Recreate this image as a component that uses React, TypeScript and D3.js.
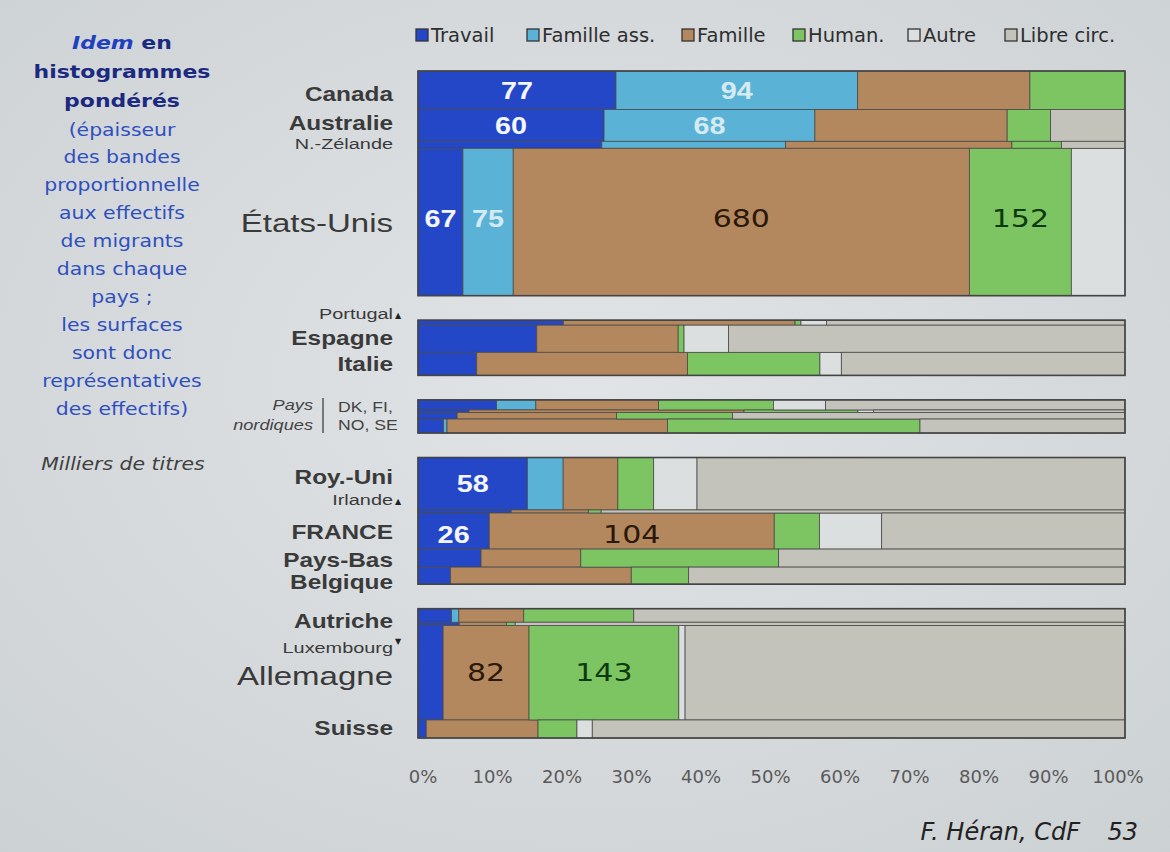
import React from 'react';
import * as d3 from 'd3';

// Milliers de titres, par motif et par pays
const countries = [
  'Canada', 'Australie', 'N.-Zélande', 'États-Unis',
  'Portugal', 'Espagne', 'Italie',
  'Danemark', 'Finlande', 'Norvège', 'Suède',
  'Roy.-Uni', 'Irlande', 'FRANCE', 'Pays-Bas', 'Belgique',
  'Autriche', 'Luxembourg', 'Allemagne', 'Suisse',
];
const groups = [0, 0, 0, 0, 1, 1, 1, 2, 2, 2, 2, 3, 3, 3, 3, 3, 4, 4, 4, 4];
const seriesNames = ['Travail', 'Famille ass.', 'Famille', 'Human.', 'Autre', 'Libre circ.'];

const travail = [77, 60, 13, 67, 7.4, 32.6, 13.7, 8, 1.3, 2.6, 3.6, 58, 2.9, 26, 11.5, 5.6, 4.6, 1.4, 24, 1.5];
const familleAss = [94, 68, 13, 75, 0, 0, 0, 4, 0, 0, 0.5, 19, 0, 0, 0, 0, 1, 0, 0, 0];
const famille = [67, 62, 16, 680, 11.8, 38.8, 49.2, 12.5, 7, 10.6, 31.2, 29, 2.4, 104, 18.2, 31.2, 8.9, 1.6, 82, 20.4];
const human = [37, 14, 3.5, 152, 0.3, 1.6, 30.9, 11.7, 2.9, 7.7, 35.7, 19, 0.4, 16.5, 36.1, 9.9, 15.1, 0.3, 143, 7.1];
const autre = [0, 0, 0, 80, 1.3, 12.2, 5, 5.3, 0.4, 0, 0, 23, 0, 22.7, 0, 0, 0, 0, 6, 2.8];
const libreCirc = [0, 24, 4.5, 0, 15.2, 108.8, 66.2, 30.5, 6.4, 26.1, 29, 227, 16.3, 88.8, 63.2, 75.3, 67.4, 20.7, 420, 97.2];

const xTicks = [0, 0.1, 0.2, 0.3, 0.4, 0.5, 0.6, 0.7, 0.8, 0.9, 1];

// [pays, série] dont la valeur est écrite dans la barre
const valueLabels: [number, number][] = [
  [0, 0], [0, 1], [1, 0], [1, 1], [3, 0], [3, 1], [3, 2], [3, 3],
  [11, 0], [13, 0], [13, 2], [18, 2], [18, 3],
];

const keys = ['travail', 'familleAss', 'famille', 'human', 'autre', 'libreCirc'];
const colors = ['#2347c6', '#5ab3d6', '#b4885e', '#7dc462', '#dcdfdf', '#c3c2bb'];

// label styling (class, vertical shift, marker)
const labelClass = ['n', 'n', 's', 'b', 's', 'n', 'n', '', '', '', '', 'n', 's', 'n', 'n', 'n', 'n', 's', 'b', 'n'];
const labelShift = [4, -3, -1, 1, -9, -1, 0, 0, 0, 0, 0, -7, -11.5, 1, 2, 6, 5, 24, 3, -1];
const labelMark = ['', '', '', '', '▲', '', '', '', '', '', '', '', '▲', '', '', '', '', '▼', '', ''];
const classStyle: Record<string, { size: number; weight: string; sx: number }> = {
  n: { size: 20, weight: 'bold', sx: 1.22 },
  b: { size: 26, weight: 'normal', sx: 1.27 },
  s: { size: 14, weight: 'normal', sx: 1.42 },
};

const leftLines = [
  { t: 'histogrammes', y: 72, bold: true },
  { t: 'pondérés', y: 101, bold: true },
  { t: '(épaisseur', y: 130 },
  { t: 'des bandes', y: 157 },
  { t: 'proportionnelle', y: 185 },
  { t: 'aux effectifs', y: 213 },
  { t: 'de migrants', y: 241 },
  { t: 'dans chaque', y: 269 },
  { t: 'pays ;', y: 297 },
  { t: 'les surfaces', y: 325 },
  { t: 'sont donc', y: 353 },
  { t: 'représentatives', y: 381 },
  { t: 'des effectifs)', y: 409 },
];

const legendX = [416, 527, 682, 793, 908, 1005];

const W = 1170;
const H = 852;
const SANS = '"Liberation Sans", Arial, sans-serif';
const VERD = '"DejaVu Sans", Verdana, sans-serif';

const T: React.FC<any> = ({ x, y, sx = 1.22, children, ...rest }) => (
  <text transform={`translate(${x},${y}) scale(${sx},1)`} {...rest}>{children}</text>
);

export default function App() {
  const table = countries.map((c, i) => ({
    country: c,
    travail: travail[i],
    familleAss: familleAss[i],
    famille: famille[i],
    human: human[i],
    autre: autre[i],
    libreCirc: libreCirc[i],
  }));
  const stacked = d3.stack<any>().keys(keys).offset(d3.stackOffsetExpand)(table);
  const totals = table.map(d => d3.sum(keys, k => (d as any)[k]));

  const x = d3.scaleLinear().domain([0, 1]).range([418, 1125]);
  const xLab = x.copy().range([423, 1118]);

  const top = 71;
  const bottom = 738;
  const gap = 24.5;
  const nGroups = 5;
  const h = d3.scaleLinear()
    .domain([0, d3.sum(totals)])
    .range([0, bottom - top - gap * (nGroups - 1)]);

  let cum = 0;
  const rows = totals.map((t, i) => {
    const y0 = top + h(cum) + groups[i] * gap;
    cum += t;
    return { y0, y1: y0 + h(t), yc: y0 + h(t) / 2 };
  });

  const frames = d3.range(nGroups).map(g => {
    const r = rows.filter((_, i) => groups[i] === g);
    return { y0: d3.min(r, d => d.y0)!, y1: d3.max(r, d => d.y1)! };
  });

  const nordic = frames[2];

  return (
    <svg width={W} height={H} style={{ position: 'absolute', left: 0, top: 0 }}>
      <defs>
        <radialGradient id="bg" cx="50%" cy="45%" r="75%">
          <stop offset="0%" stopColor="#e1e4e6" />
          <stop offset="100%" stopColor="#ccd1d4" />
        </radialGradient>
      </defs>
      <rect width={W} height={H} fill="url(#bg)" />

      {/* texte de gauche */}
      <T x={122} y={49} sx={1.2} textAnchor="middle" fontFamily={VERD} fontSize={18.3} fontWeight="bold">
        <tspan fill="#2040c0" fontStyle="italic">Idem</tspan>
        <tspan fill="#1b2a80"> en</tspan>
      </T>
      {leftLines.map(l => (
        <T key={l.t} x={122} y={l.y + 6} sx={1.2} textAnchor="middle" fontFamily={VERD}
          fontSize={l.bold ? 18.3 : 17} fontWeight={l.bold ? 'bold' : 'normal'}
          fill={l.bold ? '#1b2a80' : '#2f4fbf'}>
          {l.t}
        </T>
      ))}
      <T x={123} y={470} sx={1.2} textAnchor="middle" fontFamily={VERD} fontSize={17}
        fontStyle="italic" fill="#404040">Milliers de titres</T>

      {/* légende */}
      {seriesNames.map((s, i) => (
        <g key={s}>
          <rect x={legendX[i]} y={29} width={12} height={12} fill={colors[i]} stroke="#333" strokeWidth={1.3} />
          <text x={legendX[i] + 15} y={42} fontFamily={VERD} fontSize={19.5} fill="#2e2e2e">{s}</text>
        </g>
      ))}

      {/* barres */}
      {stacked.map((ser, s) => (
        <g key={ser.key}>
          {ser.map((d, i) => (d[1] - d[0] > 0 ? (
            <rect key={i} x={x(d[0])} y={rows[i].y0} width={x(d[1]) - x(d[0])}
              height={rows[i].y1 - rows[i].y0} fill={colors[s]} stroke="#4a4a4a" strokeWidth={0.8} />
          ) : null))}
        </g>
      ))}
      {frames.map((f, g) => (
        <rect key={g} x={x(0)} y={f.y0} width={x(1) - x(0)} height={f.y1 - f.y0}
          fill="none" stroke="#444" strokeWidth={1.6} />
      ))}

      {/* valeurs dans les barres */}
      {valueLabels.map(([i, s]) => {
        const d = stacked[s][i];
        const cx = (x(d[0]) + x(d[1])) / 2;
        const v = (table[i] as any)[keys[s]];
        const dyShift = i === 3 ? -4 : i === 13 ? 3 : 0;
        const light = s <= 1;
        return light ? (
          <T key={`${i}-${s}`} x={cx} y={rows[i].yc + dyShift} sx={1.2} dy="0.36em" textAnchor="middle"
            fontFamily={SANS} fontWeight="bold" fontSize={24} fill={s === 0 ? '#f4f6ff' : '#d6eaf2'}>{v}</T>
        ) : (
          <T key={`${i}-${s}`} x={cx} y={rows[i].yc + dyShift} sx={1.25} dy="0.36em" textAnchor="middle"
            fontFamily={VERD} fontSize={24} fill={s === 2 ? '#2a1808' : '#0c3a0c'}>{v}</T>
        );
      })}

      {/* noms des pays */}
      {countries.map((c, i) => {
        const cls = labelClass[i];
        if (!cls) return null;
        const st = classStyle[cls];
        const y = rows[i].yc + labelShift[i];
        return (
          <g key={c}>
            <T x={393} y={y} sx={st.sx} dy="0.36em" textAnchor="end" fontFamily={SANS}
              fontSize={st.size} fontWeight={st.weight} fill="#3a3a3a">{c}</T>
            {labelMark[i] && (
              <text x={395} y={labelMark[i] === '▼' ? y - 4 : y + 4} fontFamily={VERD}
                fontSize={8} fill="#222">{labelMark[i]}</text>
            )}
          </g>
        );
      })}

      {/* pays nordiques */}
      <T x={313} y={nordic.y0 + 5} sx={1.3} dy="0.36em" textAnchor="end" fontFamily={SANS}
        fontSize={14} fontStyle="italic" fill="#444">Pays</T>
      <T x={313} y={nordic.y0 + 25} sx={1.3} dy="0.36em" textAnchor="end" fontFamily={SANS}
        fontSize={14} fontStyle="italic" fill="#444">nordiques</T>
      <line x1={323} x2={323} y1={nordic.y0 - 2} y2={nordic.y1} stroke="#555" strokeWidth={1.5} />
      <T x={338} y={nordic.y0 + 7} sx={1.26} dy="0.36em" fontFamily={SANS} fontSize={14} fill="#444">DK, FI,</T>
      <T x={338} y={nordic.y0 + 25} sx={1.26} dy="0.36em" fontFamily={SANS} fontSize={14} fill="#444">NO, SE</T>

      {/* axe */}
      {xTicks.map(t => (
        <text key={t} x={xLab(t)} y={777} dy="0.36em" textAnchor="middle" fontFamily={VERD}
          fontSize={18} fill="#5a5a5a">{d3.format('.0%')(t)}</text>
      ))}

      <text x={1080} y={840} textAnchor="end" fontFamily={VERD} fontSize={24} fontStyle="italic" fill="#222">F. Héran, CdF</text>
      <text x={1138} y={840} textAnchor="end" fontFamily={VERD} fontSize={24} fontStyle="italic" fill="#222">53</text>
    </svg>
  );
}
